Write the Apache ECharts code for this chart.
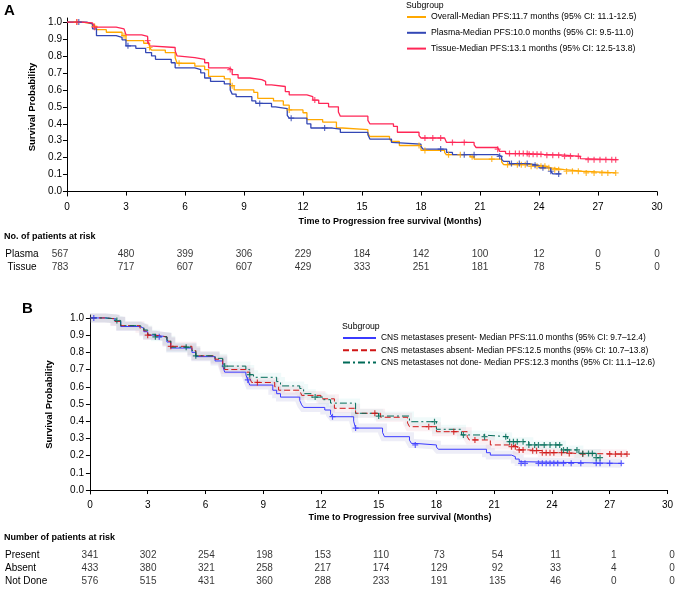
<!DOCTYPE html>
<html>
<head>
<meta charset="utf-8">
<script src="https://cdn.jsdelivr.net/npm/echarts@6/dist/echarts.min.js"></script>
<style>
  html, body { margin: 0; padding: 0; background: #fff; }
  #chart { width: 676px; height: 593px; }
</style>
</head>
<body>
<div id="chart"></div>
<script>
// ---- panel A curves: [months, survival] ----
const overallA = [[0,1],[0.8,0.99],[1.3,0.975],[1.5,0.955],[2.0,0.94],[2.8,0.92],[3.0,0.89],[3.9,0.875],[4.2,0.85],[4.3,0.835],[5.0,0.82],[5.5,0.79],[5.6,0.757],[6.5,0.74],[7.0,0.72],[7.2,0.68],[8.0,0.665],[8.3,0.625],[8.5,0.6],[9.5,0.585],[9.7,0.55],[10.5,0.535],[11.0,0.51],[11.3,0.482],[12.0,0.465],[12.2,0.425],[13.0,0.41],[13.7,0.375],[14.0,0.365],[15.3,0.345],[15.4,0.325],[16.4,0.31],[16.5,0.296],[16.9,0.272],[18.0,0.243],[19.2,0.23],[19.3,0.218],[20.5,0.205],[20.7,0.192],[22.1,0.175],[22.2,0.159],[23.6,0.149],[24.4,0.14],[24.6,0.129],[25.3,0.12],[26.2,0.11],[27.9,0.11]];
const plasmaA = [[0,1],[1.0,0.99],[1.3,0.96],[1.5,0.92],[2.5,0.91],[2.8,0.895],[3.0,0.86],[3.5,0.845],[4.0,0.82],[4.3,0.8],[4.5,0.78],[5.3,0.76],[5.5,0.73],[6.5,0.72],[6.8,0.7],[7.0,0.67],[7.3,0.65],[8.0,0.635],[8.3,0.6],[8.4,0.575],[8.6,0.56],[9.4,0.535],[9.6,0.52],[10.4,0.5],[10.6,0.49],[11.2,0.45],[11.3,0.433],[12.2,0.4],[12.4,0.375],[13.5,0.369],[13.9,0.349],[15.3,0.335],[15.4,0.31],[16.5,0.29],[16.6,0.28],[18.0,0.267],[18.1,0.251],[19.3,0.231],[19.6,0.218],[21.9,0.208],[22.1,0.19],[22.2,0.178],[22.5,0.165],[23.5,0.155],[24.0,0.14],[24.6,0.12],[24.7,0.104],[25.1,0.104]];
const tissueA = [[0,1],[0.7,0.995],[1.3,0.985],[1.4,0.97],[2.5,0.96],[2.9,0.95],[3.0,0.925],[3.8,0.915],[4.1,0.89],[4.2,0.86],[4.3,0.85],[5.5,0.83],[5.6,0.8],[5.7,0.79],[6.5,0.78],[7.0,0.76],[7.2,0.73],[8.2,0.72],[8.4,0.69],[8.7,0.67],[9.3,0.66],[9.9,0.65],[10.1,0.63],[10.4,0.62],[11.1,0.59],[11.3,0.57],[12.2,0.56],[12.5,0.54],[12.8,0.52],[13.3,0.5],[13.8,0.47],[13.9,0.445],[15.3,0.42],[15.4,0.4],[16.6,0.385],[16.8,0.35],[17.9,0.33],[18.0,0.316],[19.2,0.305],[19.3,0.29],[20.7,0.275],[20.8,0.26],[21.9,0.25],[22.0,0.237],[22.3,0.224],[23.5,0.22],[24.2,0.215],[25.3,0.208],[26.1,0.195],[26.2,0.188],[28.0,0.188]];

const censorOverallA = [0.5,1.4,2.9,4.2,5.7,8.4,11.3,17.9,18.2,19.4,20.0,20.6,21.6,22.4,22.9,23.1,23.3,23.6,23.9,24.1,24.3,24.5,24.8,25.0,25.4,25.7,26.0,26.4,26.8,27.2,27.5,27.9];
const censorPlasmaA = [0.6,3.1,9.8,11.4,13.1,19.0,20.2,20.7,22.0,22.6,23.0,23.4,23.8,24.2,24.6,25.0];
const censorTissueA = [0.5,1.4,4.1,8.3,12.6,18.2,18.6,19.0,19.6,20.2,21.9,22.5,22.8,23.0,23.2,23.4,23.5,23.7,23.9,24.1,24.4,24.7,25.0,25.3,25.6,26.0,26.5,26.8,27.1,27.4,27.7,27.9];

// ---- panel B curves ----
const presentB = [[0,1],[0.8,0.995],[1.3,0.98],[1.6,0.95],[2.6,0.94],[2.8,0.92],[3.0,0.9],[3.4,0.89],[4.0,0.86],[4.2,0.825],[5.3,0.8],[5.5,0.775],[6.5,0.75],[6.9,0.72],[7.0,0.685],[8.1,0.67],[8.2,0.64],[8.3,0.61],[9.5,0.58],[9.7,0.56],[9.9,0.54],[10.9,0.52],[11.0,0.495],[11.1,0.48],[12.2,0.465],[12.5,0.44],[12.6,0.426],[13.7,0.4],[13.8,0.36],[15.2,0.335],[15.3,0.31],[16.6,0.29],[16.7,0.271],[16.9,0.262],[18.0,0.25],[18.1,0.237],[20.6,0.217],[20.8,0.203],[21.9,0.194],[22.1,0.18],[22.3,0.165],[22.4,0.155],[27.6,0.155]];
const absentB = [[0,1],[0.8,0.995],[1.3,0.98],[1.6,0.955],[2.6,0.94],[2.8,0.925],[3.0,0.9],[3.4,0.89],[4.0,0.865],[4.2,0.835],[5.3,0.81],[5.5,0.78],[6.5,0.76],[6.9,0.73],[7.0,0.7],[8.1,0.685],[8.3,0.65],[8.4,0.625],[9.6,0.6],[9.8,0.58],[10.9,0.57],[11.0,0.55],[12.0,0.53],[12.7,0.475],[13.8,0.446],[15.1,0.423],[16.5,0.39],[16.6,0.368],[18.0,0.339],[19.6,0.31],[19.7,0.291],[20.8,0.262],[21.9,0.252],[22.2,0.233],[22.8,0.229],[23.5,0.217],[24.9,0.213],[25.2,0.209],[27.9,0.209]];
const notDoneB = [[0,1],[0.8,0.995],[1.3,0.985],[1.6,0.955],[2.6,0.945],[2.8,0.93],[3.0,0.905],[3.4,0.89],[4.0,0.87],[4.2,0.83],[5.3,0.81],[5.5,0.78],[6.5,0.765],[6.9,0.745],[7.0,0.72],[8.1,0.7],[8.3,0.67],[8.5,0.655],[9.7,0.63],[9.9,0.605],[10.9,0.59],[11.1,0.56],[11.5,0.54],[12.1,0.525],[12.5,0.505],[13.8,0.446],[15.0,0.43],[16.6,0.397],[18.0,0.353],[19.3,0.32],[20.4,0.31],[21.7,0.281],[22.8,0.262],[24.5,0.233],[25.4,0.213],[26.3,0.188],[26.5,0.188]];

const censorPresentB = [0.2,3.6,8.2,12.6,13.8,16.9,22.4,22.6,23.3,23.5,23.7,23.9,24.1,24.3,24.6,25.0,25.5,26.3,26.5,27.0,27.6];
const censorAbsentB = [3.0,4.2,8.7,14.8,17.6,18.9,20.0,21.9,22.1,22.3,22.5,23.0,23.2,23.5,23.7,23.9,24.1,24.5,24.9,25.6,27.0,27.3,27.6,27.9];
const censorNotDoneB = [1.4,3.4,5.0,5.5,7.0,8.3,11.7,15.0,17.9,19.4,20.5,21.6,21.8,22.0,22.2,22.5,22.8,23.1,23.3,23.6,23.9,24.2,24.4,24.6,24.8,25.3,25.6,25.9,26.1,26.3,26.5];

// ---- risk tables ----
const riskTimes = [0,3,6,9,12,15,18,21,24,27,30];
const riskPlasma = [567,480,399,306,229,184,142,100,12,0,0];
const riskTissue = [783,717,607,607,429,333,251,181,78,5,0];
const riskPresent = [341,302,254,198,153,110,73,54,11,1,0];
const riskAbsent = [433,380,321,258,217,174,129,92,33,4,0];
const riskNotDone = [576,515,431,360,288,233,191,135,46,0,0];

const xTicks = [0,3,6,9,12,15,18,21,24,27,30];
const yTicks = [0,0.1,0.2,0.3,0.4,0.5,0.6,0.7,0.8,0.9,1.0];

const labelsA = ['Overall-Median PFS:11.7 months (95% CI: 11.1-12.5)', 'Plasma-Median PFS:10.0 months (95% CI: 9.5-11.0)', 'Tissue-Median PFS:13.1 months (95% CI: 12.5-13.8)'];
const labelsB = ['CNS metastases present- Median PFS:11.0 months (95% CI: 9.7\u201312.4)', 'CNS metastases absent- Median PFS:12.5 months (95% CI: 10.7\u201313.8)', 'CNS metastases not done- Median PFS:12.3 months (95% CI: 11.1\u201312.6)'];

const FONT = 'Liberation Sans, Arial, Helvetica, sans-serif';
const PLUS = 'path://M2,0H3V2H5V3H3V5H2V3H0V2H2Z';

// value of step curve at time t
function stepAt(curve, t) {
  let v = curve[0][1];
  for (const p of curve) { if (p[0] <= t) v = p[1]; }
  return v;
}

function plotAxes(gi, xmin, ymin, ymax, nameGap) {
  const x = {
    type: 'value', gridIndex: gi, min: xmin, max: 30,
    axisLine: { lineStyle: { color: '#000', width: 1 } },
    axisTick: { length: 4, customValues: xTicks, lineStyle: { color: '#000' } },
    axisLabel: { customValues: xTicks, color: '#000', fontSize: 10, fontFamily: FONT, margin: 6 },
    splitLine: { show: false }
  };
  const y = {
    type: 'value', gridIndex: gi, min: ymin, max: ymax,
    name: 'Survival Probability', nameLocation: 'middle', nameGap: nameGap,
    nameTextStyle: { fontWeight: 'bold', fontSize: 9.5, fontFamily: FONT, color: '#000' },
    axisLine: { show: true, lineStyle: { color: '#000', width: 1 } },
    axisTick: { show: true, length: 4, customValues: yTicks, lineStyle: { color: '#000' } },
    axisLabel: { customValues: yTicks, formatter: v => v.toFixed(1), color: '#000', fontSize: 10, fontFamily: FONT, margin: 4 },
    splitLine: { show: false }
  };
  return [x, y];
}

function tableAxes(gi, xmin, rows, align, margin) {
  return [
    { type: 'value', gridIndex: gi, min: xmin, max: 30, show: false },
    { type: 'category', gridIndex: gi, data: rows, inverse: true,
      axisLine: { show: false }, axisTick: { show: false },
      axisLabel: { interval: 0, align: align, margin: margin, color: '#000', fontSize: 10, fontFamily: FONT } }
  ];
}

function curve(name, data, color, gi, width, dash) {
  return {
    name: name, type: 'line', step: 'end', data: data, xAxisIndex: gi, yAxisIndex: gi,
    showSymbol: false, symbol: 'none', z: 3,
    lineStyle: { color: color, width: width, type: dash || 'solid' },
    itemStyle: { color: color }
  };
}

function band(data, color, gi) {
  return {
    type: 'line', step: 'end', data: data, xAxisIndex: gi, yAxisIndex: gi,
    showSymbol: false, symbol: 'none', z: 1, silent: true,
    lineStyle: { color: color, width: 9, cap: 'butt', join: 'miter' }
  };
}

function censor(curveData, times, color, gi) {
  return {
    type: 'scatter', xAxisIndex: gi, yAxisIndex: gi, symbol: PLUS, symbolSize: 6, z: 4,
    data: times.map(t => [t, stepAt(curveData, t)]),
    itemStyle: { color: color }
  };
}

function riskRow(row, counts, gi, firstOffset) {
  return {
    type: 'scatter', xAxisIndex: gi, yAxisIndex: gi, symbolSize: 1,
    itemStyle: { color: 'transparent' },
    data: riskTimes.map((t, i) => ({
      value: [t, row, counts[i]],
      label: i === 0 ? { offset: [firstOffset, 0] } : {}
    })),
    label: { show: true, position: 'inside', formatter: p => String(p.value[2]), color: '#000', fontSize: 10, fontFamily: FONT }
  };
}

const ORANGE = '#FFA800', NAVY = '#3347B5', PINK = '#FF2656';
const BLUE = '#3A3AFF', RED = '#D01515', TEAL = '#006B58';

const axA = plotAxes(0, -0.05, -0.026, 1.024, 27);
const axTA = tableAxes(1, -0.05, ['Plasma', 'Tissue'], 'center', 44);
const axB = plotAxes(2, -0.1, -0.023, 1.017, 34);
const axTB = tableAxes(3, -0.1, ['Present', 'Absent', 'Not Done'], 'left', 83);

const hideSymbol = { color: 'transparent', borderColor: 'transparent', borderWidth: 0, opacity: 0 };

const option = {
  animation: false,
  backgroundColor: '#fff',
  textStyle: { fontFamily: FONT },
  title: [
    { text: 'A', left: 4, top: 3, padding: 0, textStyle: { fontSize: 15, fontWeight: 'bold', color: '#000', fontFamily: FONT } },
    { text: 'B', left: 22, top: 301, padding: 0, textStyle: { fontSize: 15, fontWeight: 'bold', color: '#000', fontFamily: FONT } },
    { text: 'Subgroup', left: 406, top: 1, padding: 0, textStyle: { fontSize: 8.7, fontWeight: 'normal', color: '#000', fontFamily: FONT } },
    { text: 'Subgroup', left: 342, top: 322, padding: 0, textStyle: { fontSize: 8.7, fontWeight: 'normal', color: '#000', fontFamily: FONT } },
    { text: 'Time to Progression free survival (Months)', left: 390, textAlign: 'center', top: 217, padding: 0, textStyle: { fontSize: 9, fontWeight: 'bold', color: '#000', fontFamily: FONT } },
    { text: 'Time to Progression free survival (Months)', left: 400, textAlign: 'center', top: 513, padding: 0, textStyle: { fontSize: 9, fontWeight: 'bold', color: '#000', fontFamily: FONT } },
    { text: 'No. of patients at risk', left: 4, top: 232, padding: 0, textStyle: { fontSize: 9, fontWeight: 'bold', color: '#000', fontFamily: FONT } },
    { text: 'Number of patients at risk', left: 4, top: 533, padding: 0, textStyle: { fontSize: 9, fontWeight: 'bold', color: '#000', fontFamily: FONT } }
  ],
  legend: [
    { data: labelsA, orient: 'vertical', left: 406, top: 12.5, itemWidth: 19, itemHeight: 10, itemGap: 6.8, padding: 0,
      itemStyle: hideSymbol, lineStyle: { width: 2 }, textStyle: { fontSize: 8.7, color: '#000', fontFamily: FONT } },
    { data: labelsB, orient: 'vertical', left: 342, top: 334, itemWidth: 33, itemHeight: 8, itemGap: 4.3, padding: 0,
      itemStyle: hideSymbol, lineStyle: { width: 2 }, textStyle: { fontSize: 8.4, color: '#000', fontFamily: FONT } }
  ],
  grid: [
    { left: 66, right: 19, top: 18, height: 178 },
    { left: 66, right: 19, top: 247.5, height: 26 },
    { left: 88, right: 4, top: 315, height: 179 },
    { left: 88, right: 4, top: 548.5, height: 39 }
  ],
  xAxis: [axA[0], axTA[0], axB[0], axTB[0]],
  yAxis: [axA[1], axTA[1], axB[1], axTB[1]],
  series: [
    curve(labelsA[0], overallA, ORANGE, 0, 1.3),
    curve(labelsA[1], plasmaA, NAVY, 0, 1.3),
    curve(labelsA[2], tissueA, PINK, 0, 1.3),
    censor(overallA, censorOverallA, ORANGE, 0),
    censor(plasmaA, censorPlasmaA, NAVY, 0),
    censor(tissueA, censorTissueA, PINK, 0),
    riskRow('Plasma', riskPlasma, 1, -7),
    riskRow('Tissue', riskTissue, 1, -7),

    band(presentB, 'rgba(110,110,190,0.12)', 2),
    band(absentB, 'rgba(220,120,150,0.11)', 2),
    band(notDoneB, 'rgba(90,200,200,0.09)', 2),
    curve(labelsB[0], presentB, BLUE, 2, 1),
    curve(labelsB[1], absentB, RED, 2, 1, [6, 3]),
    curve(labelsB[2], notDoneB, TEAL, 2, 1, [7, 3, 2, 3]),
    censor(presentB, censorPresentB, BLUE, 2),
    censor(absentB, censorAbsentB, RED, 2),
    censor(notDoneB, censorNotDoneB, TEAL, 2),
    riskRow('Present', riskPresent, 3, 0),
    riskRow('Absent', riskAbsent, 3, 0),
    riskRow('Not Done', riskNotDone, 3, 0)
  ]
};

const chart = echarts.init(document.getElementById('chart'), null, { renderer: 'canvas' });
chart.setOption(option);
</script>
</body>
</html>
